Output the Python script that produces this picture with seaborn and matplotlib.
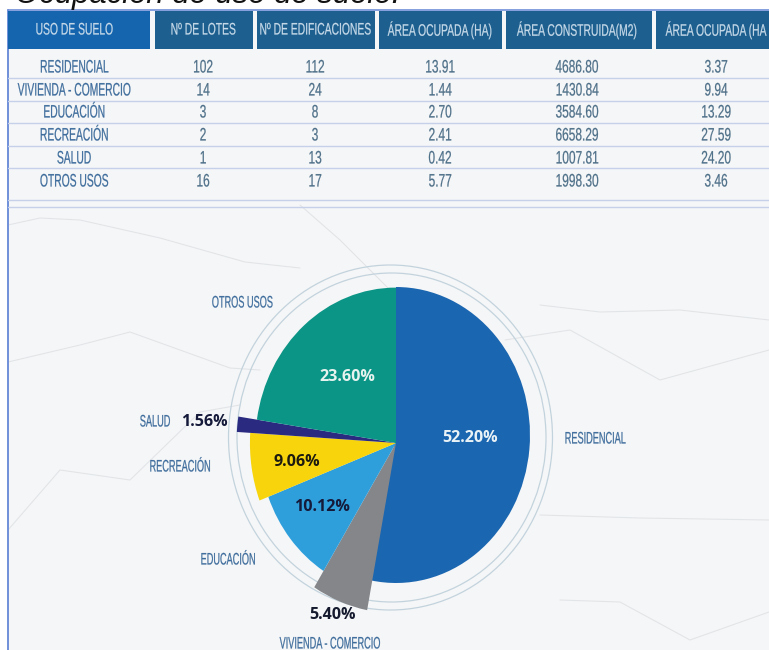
import matplotlib
matplotlib.use("Agg")
import matplotlib.pyplot as plt
import matplotlib.patheffects as pe
from matplotlib.patches import Ellipse, Rectangle
from matplotlib.transforms import Affine2D
import seaborn as sns

sns.set_theme(style="white")
plt.rcParams["font.family"] = ["Open Sans", "DejaVu Sans"]
BASE = ["Liberation Sans", "DejaVu Sans"]

title = "Ocupación de uso de suelo:"
headers = ["USO DE SUELO", "Nº DE LOTES", "Nº DE EDIFICACIONES",
           "ÁREA OCUPADA (HA)", "ÁREA CONSTRUIDA(M2)", "ÁREA OCUPADA (HA"]
uses = ["RESIDENCIAL", "VIVIENDA - COMERCIO", "EDUCACIÓN", "RECREACIÓN", "SALUD", "OTROS USOS"]
lots = ["102", "14", "3", "2", "1", "16"]
buildings = ["112", "24", "8", "3", "13", "17"]
area_ha = ["13.91", "1.44", "2.70", "2.41", "0.42", "5.77"]
built_m2 = ["4686.80", "1430.84", "3584.60", "6658.29", "1007.81", "1998.30"]
area_ha2 = ["3.37", "9.94", "13.29", "27.59", "24.20", "3.46"]

pie_labels = ["52.20%", "5.40%", "10.12%", "9.06%", "1.56%", "23.60%"]
slice_shares = [53.0, 5.9, 10.3, 6.8, 1.4, 22.6]   # slice sizes as drawn in the picture
palette = sns.color_palette(["#1b66b0", "#85868a", "#2f9fdc", "#f7d40c", "#2a2a80", "#0b9586"])


class Squeeze(pe.AbstractPathEffect):
    """Narrow the glyphs around their own centre (the poster uses a condensed face)."""
    def __init__(self, sx, stroke=0.15):
        super().__init__()
        self.sx = sx
        self.stroke = stroke

    def draw_path(self, renderer, gc, tpath, affine, rgbFace=None):
        ext = tpath.get_extents()
        mid = (ext.x0 + ext.x1) / 2
        squeeze = Affine2D().translate(-mid, 0).scale(self.sx, 1).translate(mid, 0)
        gc0 = renderer.new_gc()
        gc0.copy_properties(gc)
        gc0.set_foreground(rgbFace)
        gc0.set_linewidth(self.stroke)
        renderer.draw_path(gc0, tpath, squeeze + affine, rgbFace)
        gc0.restore()


def narrow(ax, x, y, s, size, sx, color, **kw):
    ax.text(x, y, s, ha="center", va="center", family=BASE, fontsize=size, color=color,
            path_effects=[Squeeze(sx)], **kw)


fig = plt.figure(figsize=(7.69, 6.5), dpi=100, facecolor="white")
bg = fig.add_axes([0, 0, 1, 1])
bg.set_xlim(0, 769); bg.set_ylim(650, 0); bg.axis("off")

# page panel
BG = "#f5f6f7"
bg.add_patch(Rectangle((8, 10), 761, 640, fc=BG, ec="none"))
bg.plot([8, 8], [10, 650], color="#6f8fd8", lw=1.4)
bg.plot([8, 769], [10, 10], color="#6f8fd8", lw=1.2)

# faint map lines behind the chart
map_lines = [
    ([8, 40, 80, 160, 245, 300], [225, 218, 220, 238, 262, 268]),
    ([8, 80, 130, 230, 260], [362, 345, 332, 368, 370]),
    ([540, 600, 680, 769], [305, 312, 310, 320]),
    ([540, 640, 769], [515, 518, 520]),
    ([240, 200, 130, 60, 8], [405, 412, 480, 470, 530]),
    ([560, 620, 690, 769], [600, 602, 640, 612]),
    ([505, 570, 660, 769], [340, 330, 380, 350]),
    ([300, 340, 390], [205, 240, 290]),
]
for xs, ys in map_lines:
    bg.plot(xs, ys, color="#e2e5e8", lw=0.8, zorder=1)

# table header
header_spans = [(8, 150), (155, 253), (257, 375), (379, 502), (506, 652), (656, 769)]
header_colors = ["#1565ae"] + ["#1d5f8e"] * 5
col_centers = [74, 203, 315, 440, 577, 716]
for (x0, x1), c, h, cx in zip(header_spans, header_colors, headers, col_centers):
    bg.add_patch(Rectangle((x0, 11), x1 - x0, 38, fc=c, ec="none", zorder=2))
    narrow(bg, cx, 30, h, 12, 0.62, "#c8dbea", zorder=3)

# table rows
row_y = [68, 91, 113, 136, 159, 182]
rule_y = [78, 101, 123, 146, 168, 200, 207]
for y in rule_y:
    bg.plot([8, 769], [y, y], color="#c6d0e8", lw=1.0, zorder=2)
columns = [uses, lots, buildings, area_ha, built_m2, area_ha2]
for j, (col, cx) in enumerate(zip(columns, col_centers)):
    for y, val in zip(row_y, col):
        narrow(bg, cx, y, val, 13, 0.57 if j == 0 else 0.66,
               "#3d6c9c" if j == 0 else "#4d6f88", zorder=3)

# title (cut off by the top edge)
bg.text(15, 3, title, ha="left", va="baseline", family=BASE,
        style="italic", fontsize=22.4, color="#111111", zorder=5)

# rings around the pie
for cx, cy, rx, ry in [(390.5, 437.5, 162, 172.5), (391.5, 437.5, 154.5, 164.5)]:
    bg.add_patch(Ellipse((cx, cy), 2 * rx, 2 * ry, fc="none", ec="#c3d3dd", lw=0.9, zorder=2))

# pie: one data unit spans 134 px across and 148 px down
pie_ax = fig.add_axes([0, 0, 1, 1], facecolor="none")
wedges, _ = pie_ax.pie(slice_shares, colors=palette, startangle=90, counterclock=False,
                       center=(0, 0), radius=1, frame=True,
                       wedgeprops={"linewidth": 0})
pie_ax.set_aspect("auto")
px, py = 134.0, 148.0
cx, cy = 396.0, 443.0
pie_ax.set_xlim(-cx / px, (769 - cx) / px)
pie_ax.set_ylim(-(650 - cy) / py, cy / py)
pie_ax.axis("off")
for w, r in zip(wedges, [1.0, 1.15, 1.02, 1.09, 1.19, 1.05]):
    w.set_radius(r)
wedges[0].set_center((0, 8 / py))
wedges[0].set_zorder(0.5)

# pie texts in pixel coordinates, on their own layer above the pie
top = fig.add_axes([0, 0, 1, 1], facecolor="none")
top.set_xlim(0, 769); top.set_ylim(650, 0); top.axis("off")
percent_pos = [(470, 438), (332, 615), (322, 507), (297, 462), (204, 422), (347, 377)]
percent_cols = ["#e9f2f6", "#151a2e", "#151a3a", "#1d1a10", "#151a3a", "#e6f3ef"]
for (x, y), t, c in zip(percent_pos, pie_labels, percent_cols):
    top.text(x, y, t, ha="center", va="center", fontsize=11.6, fontweight="bold", color=c, zorder=6)
name_pos = [(595, 439), (330, 644), (228, 560), (180, 467), (155, 422), (242, 303)]
for (x, y), t in zip(name_pos, uses):
    narrow(top, x, y, t, 12, 0.55, "#3d6c9c", zorder=6)

fig.savefig("out.png", dpi=100)
